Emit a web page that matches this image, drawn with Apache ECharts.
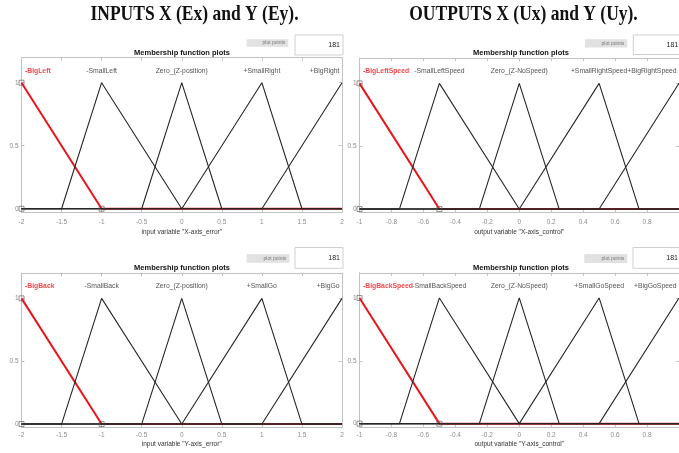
<!DOCTYPE html>
<html>
<head>
<meta charset="utf-8">
<script src="https://cdn.jsdelivr.net/npm/echarts@6/dist/echarts.min.js"></script>
<style>
  html, body { margin: 0; padding: 0; background: #fff; }
  #chart { width: 679px; height: 453px; }
</style>
</head>
<body>
<div id="chart"></div>
<script>
// ---- variable ranges ----
const inputRange = [-2, 2];
const inputTickStep = 0.5;
const outputRange = [-1, 1];
const outputTickStep = 0.2;
const muTicks = [0, 0.5, 1];

// ---- membership function names ----
const exNames = ['-BigLeft', '-SmallLeft', 'Zero_(Z-position)', '+SmallRight', '+BigRight'];
const eyNames = ['-BigBack', '-SmallBack', 'Zero_(Z-position)', '+SmallGo', '+BigGo'];
const uxNames = ['-BigLeftSpeed', '-SmallLeftSpeed', 'Zero_(Z-NoSpeed)', '+SmallRightSpeed', '+BigRightSpeed'];
const uyNames = ['-BigBackSpeed', '-SmallBackSpeed', 'Zero_(Z-NoSpeed)', '+SmallGoSpeed', '+BigGoSpeed'];

// peak location of each function (where its name is written)
const inputPeaks = [-2, -1, 0, 1, 2];
const outputPeaks = [-1, -0.5, 0, 0.5, 1];

// corner points [x, membership] of each function across the whole range
const inputShapes = [
  [[-2, 1], [-1, 0], [2, 0]],
  [[-2, 0], [-1.5, 0], [-1, 1], [0, 0], [2, 0]],
  [[-2, 0], [-0.5, 0], [0, 1], [0.5, 0], [2, 0]],
  [[-2, 0], [0, 0], [1, 1], [1.5, 0], [2, 0]],
  [[-2, 0], [1, 0], [2, 1]]
];
const outputShapes = [
  [[-1, 1], [-0.5, 0], [1, 0]],
  [[-1, 0], [-0.75, 0], [-0.5, 1], [0, 0], [1, 0]],
  [[-1, 0], [-0.25, 0], [0, 1], [0.25, 0], [1, 0]],
  [[-1, 0], [0, 0], [0.5, 1], [0.75, 0], [1, 0]],
  [[-1, 0], [0.5, 0], [1, 1]]
];

// edit handles of the selected (first) function
const inputHandles = [[-2, 1], [-2, 0], [-1, 0]];
const outputHandles = [[-1, 1], [-1, 0], [-0.5, 0]];

const plotPoints = 181;
const labelLevel = 1.095;

// ---- styling ----
const FONT = '"Liberation Sans", Arial, Helvetica, sans-serif';
const SERIF = '"Liberation Serif", "Times New Roman", serif';
const BOX = '#c2c2c2';
const TICK_TXT = '#8c8c8c';
const RED = '#e8161c';
const INK = '#262626';
const Y_MIN = -0.025, Y_MAX = 1.2;

const panels = [
  { names: exNames, peaks: inputPeaks, shapes: inputShapes, handles: inputHandles,
    range: inputRange, step: inputTickStep, axisName: 'input variable "X-axis_error"',
    box: { left: 21.5, top: 57.5, width: 320.5, height: 154.4 }, labelMargin: 7, nameGap: 16.5,
    title: [182, 52.7], grey: [246.7, 39.3, 41.6, 7.4], field: [295, 35, 48, 20], showMax: true },
  { names: uxNames, peaks: outputPeaks, shapes: outputShapes, handles: outputHandles,
    range: outputRange, step: outputTickStep, axisName: 'output variable "X-axis_control"',
    box: { left: 359.5, top: 58.2, width: 320, height: 154 }, labelMargin: 7, nameGap: 16.5,
    title: [521, 52.7], grey: [585, 39.3, 42.3, 8.2], field: [633.3, 35, 48, 19.5], showMax: false },
  { names: eyNames, peaks: inputPeaks, shapes: inputShapes, handles: inputHandles,
    range: inputRange, step: inputTickStep, axisName: 'input variable "Y-axis_error"',
    box: { left: 21.5, top: 273.2, width: 320.5, height: 154 }, labelMargin: 5, nameGap: 14,
    title: [182, 267.7], grey: [246.7, 254.3, 42.6, 8.4], field: [295, 247.5, 48, 20.8], showMax: true },
  { names: uyNames, peaks: outputPeaks, shapes: outputShapes, handles: outputHandles,
    range: outputRange, step: outputTickStep, axisName: 'output variable "Y-axis_control"',
    box: { left: 359.5, top: 272.8, width: 320, height: 154 }, labelMargin: 5, nameGap: 14,
    title: [521, 268.3], grey: [584.3, 254, 43, 9], field: [633, 247.5, 48, 20.8], showMax: false }
];

const grids = [], xAxes = [], yAxes = [], series = [], graphics = [];

panels.forEach((p, i) => {
  grids.push(Object.assign({ containLabel: false }, p.box));

  const tickStyle = { inside: true, length: 3, lineStyle: { color: BOX, width: 1 } };
  const lineStyle = { onZero: false, lineStyle: { color: BOX, width: 1 } };

  xAxes.push({
    gridIndex: i, type: 'value', position: 'bottom',
    min: p.range[0], max: p.range[1], interval: p.step,
    name: p.axisName, nameLocation: 'middle', nameGap: p.nameGap,
    nameTextStyle: { fontFamily: FONT, fontSize: 6.5, color: '#333' },
    axisLine: lineStyle, axisTick: tickStyle,
    axisLabel: { fontFamily: FONT, fontSize: 6.5, color: TICK_TXT, margin: p.labelMargin,
                 showMinLabel: true, showMaxLabel: p.showMax },
    splitLine: { show: false }
  });
  xAxes.push({
    gridIndex: i, type: 'value', position: 'top',
    min: p.range[0], max: p.range[1], interval: p.step,
    axisLine: lineStyle, axisTick: tickStyle,
    axisLabel: { show: false }, splitLine: { show: false }
  });
  yAxes.push({
    gridIndex: i, type: 'value', position: 'left', min: Y_MIN, max: Y_MAX,
    axisLine: lineStyle,
    axisTick: { inside: true, length: 3, customValues: muTicks, lineStyle: { color: BOX, width: 1 } },
    axisLabel: { fontFamily: FONT, fontSize: 6.5, color: TICK_TXT, margin: 3, customValues: muTicks },
    splitLine: { show: false }
  });
  yAxes.push({
    gridIndex: i, type: 'value', position: 'right', min: Y_MIN, max: Y_MAX,
    axisLine: lineStyle,
    axisTick: { inside: true, length: 3, customValues: muTicks, lineStyle: { color: BOX, width: 1 } },
    axisLabel: { show: false }, splitLine: { show: false }
  });

  const xi = 2 * i, yi = 2 * i;

  // selected function, drawn in red underneath the others
  series.push({
    type: 'line', xAxisIndex: xi, yAxisIndex: yi, data: p.shapes[0],
    symbol: 'none', lineStyle: { color: RED, width: 2 }, z: 2, silent: true, animation: false
  });
  // remaining functions
  p.shapes.slice(1).forEach(shape => {
    series.push({
      type: 'line', xAxisIndex: xi, yAxisIndex: yi, data: shape,
      symbol: 'none', lineStyle: { color: INK, width: 1.1 }, z: 3, silent: true, animation: false
    });
  });
  // edit handles
  series.push({
    type: 'scatter', xAxisIndex: xi, yAxisIndex: yi, data: p.handles,
    symbol: 'rect', symbolSize: 5, clip: false,
    itemStyle: { color: 'rgba(255,255,255,0)', borderColor: '#555', borderWidth: 0.8 },
    z: 5, silent: true, animation: false
  });
  // function names
  const last = p.names.length - 1;
  series.push({
    type: 'scatter', xAxisIndex: xi, yAxisIndex: yi, symbolSize: 0, clip: false,
    silent: true, animation: false, z: 6,
    data: p.names.map((n, k) => {
      const label = { show: true, position: 'inside', formatter: n,
        fontFamily: FONT, fontSize: 6.8, color: INK, align: 'center', verticalAlign: 'middle' };
      if (k === 0) Object.assign(label, { align: 'left', offset: [3.5, 0], color: RED, fontWeight: 'bold' });
      if (k === last) Object.assign(label, { align: 'right', offset: [-2.5, 0] });
      return { value: [p.peaks[k], labelLevel], name: n, label };
    })
  });

  // panel heading
  graphics.push({ type: 'text', x: p.title[0], y: p.title[1], silent: true,
    style: { text: 'Membership function plots', font: 'bold 7.5px ' + FONT, fill: '#111',
             align: 'center', verticalAlign: 'middle' } });
  // plot points control
  const g = p.grey, f = p.field;
  graphics.push({ type: 'rect', silent: true, shape: { x: g[0], y: g[1], width: g[2], height: g[3] },
    style: { fill: '#e1e1e1' } });
  graphics.push({ type: 'text', silent: true, x: g[0] + g[2] - 3, y: g[1] + g[3] / 2,
    style: { text: 'plot points', font: '5px ' + FONT, fill: '#777', align: 'right', verticalAlign: 'middle' } });
  graphics.push({ type: 'rect', silent: true, shape: { x: f[0], y: f[1], width: f[2], height: f[3] },
    style: { fill: '#fff', stroke: '#cfcfcf', lineWidth: 1 } });
  graphics.push({ type: 'text', silent: true, x: f[0] + 45, y: f[1] + f[3] / 2 + 0.5,
    style: { text: String(plotPoints), font: '7px ' + FONT, fill: '#222', align: 'right', verticalAlign: 'middle' } });
});

// section headings
graphics.push({ type: 'text', x: 194.5, y: 14.5, scaleY: 1.14, silent: true,
  style: { text: 'INPUTS X (Ex) and Y (Ey).', font: 'bold 17.5px ' + SERIF, fill: '#111',
           align: 'center', verticalAlign: 'middle' } });
graphics.push({ type: 'text', x: 523.5, y: 14.5, scaleY: 1.14, silent: true,
  style: { text: 'OUTPUTS X (Ux) and Y (Uy).', font: 'bold 17.5px ' + SERIF, fill: '#111',
           align: 'center', verticalAlign: 'middle' } });

const chart = echarts.init(document.getElementById('chart'), null, { renderer: 'canvas' });
chart.setOption({
  backgroundColor: '#ffffff',
  animation: false,
  grid: grids,
  xAxis: xAxes,
  yAxis: yAxes,
  series: series,
  graphic: graphics
});
</script>
</body>
</html>
